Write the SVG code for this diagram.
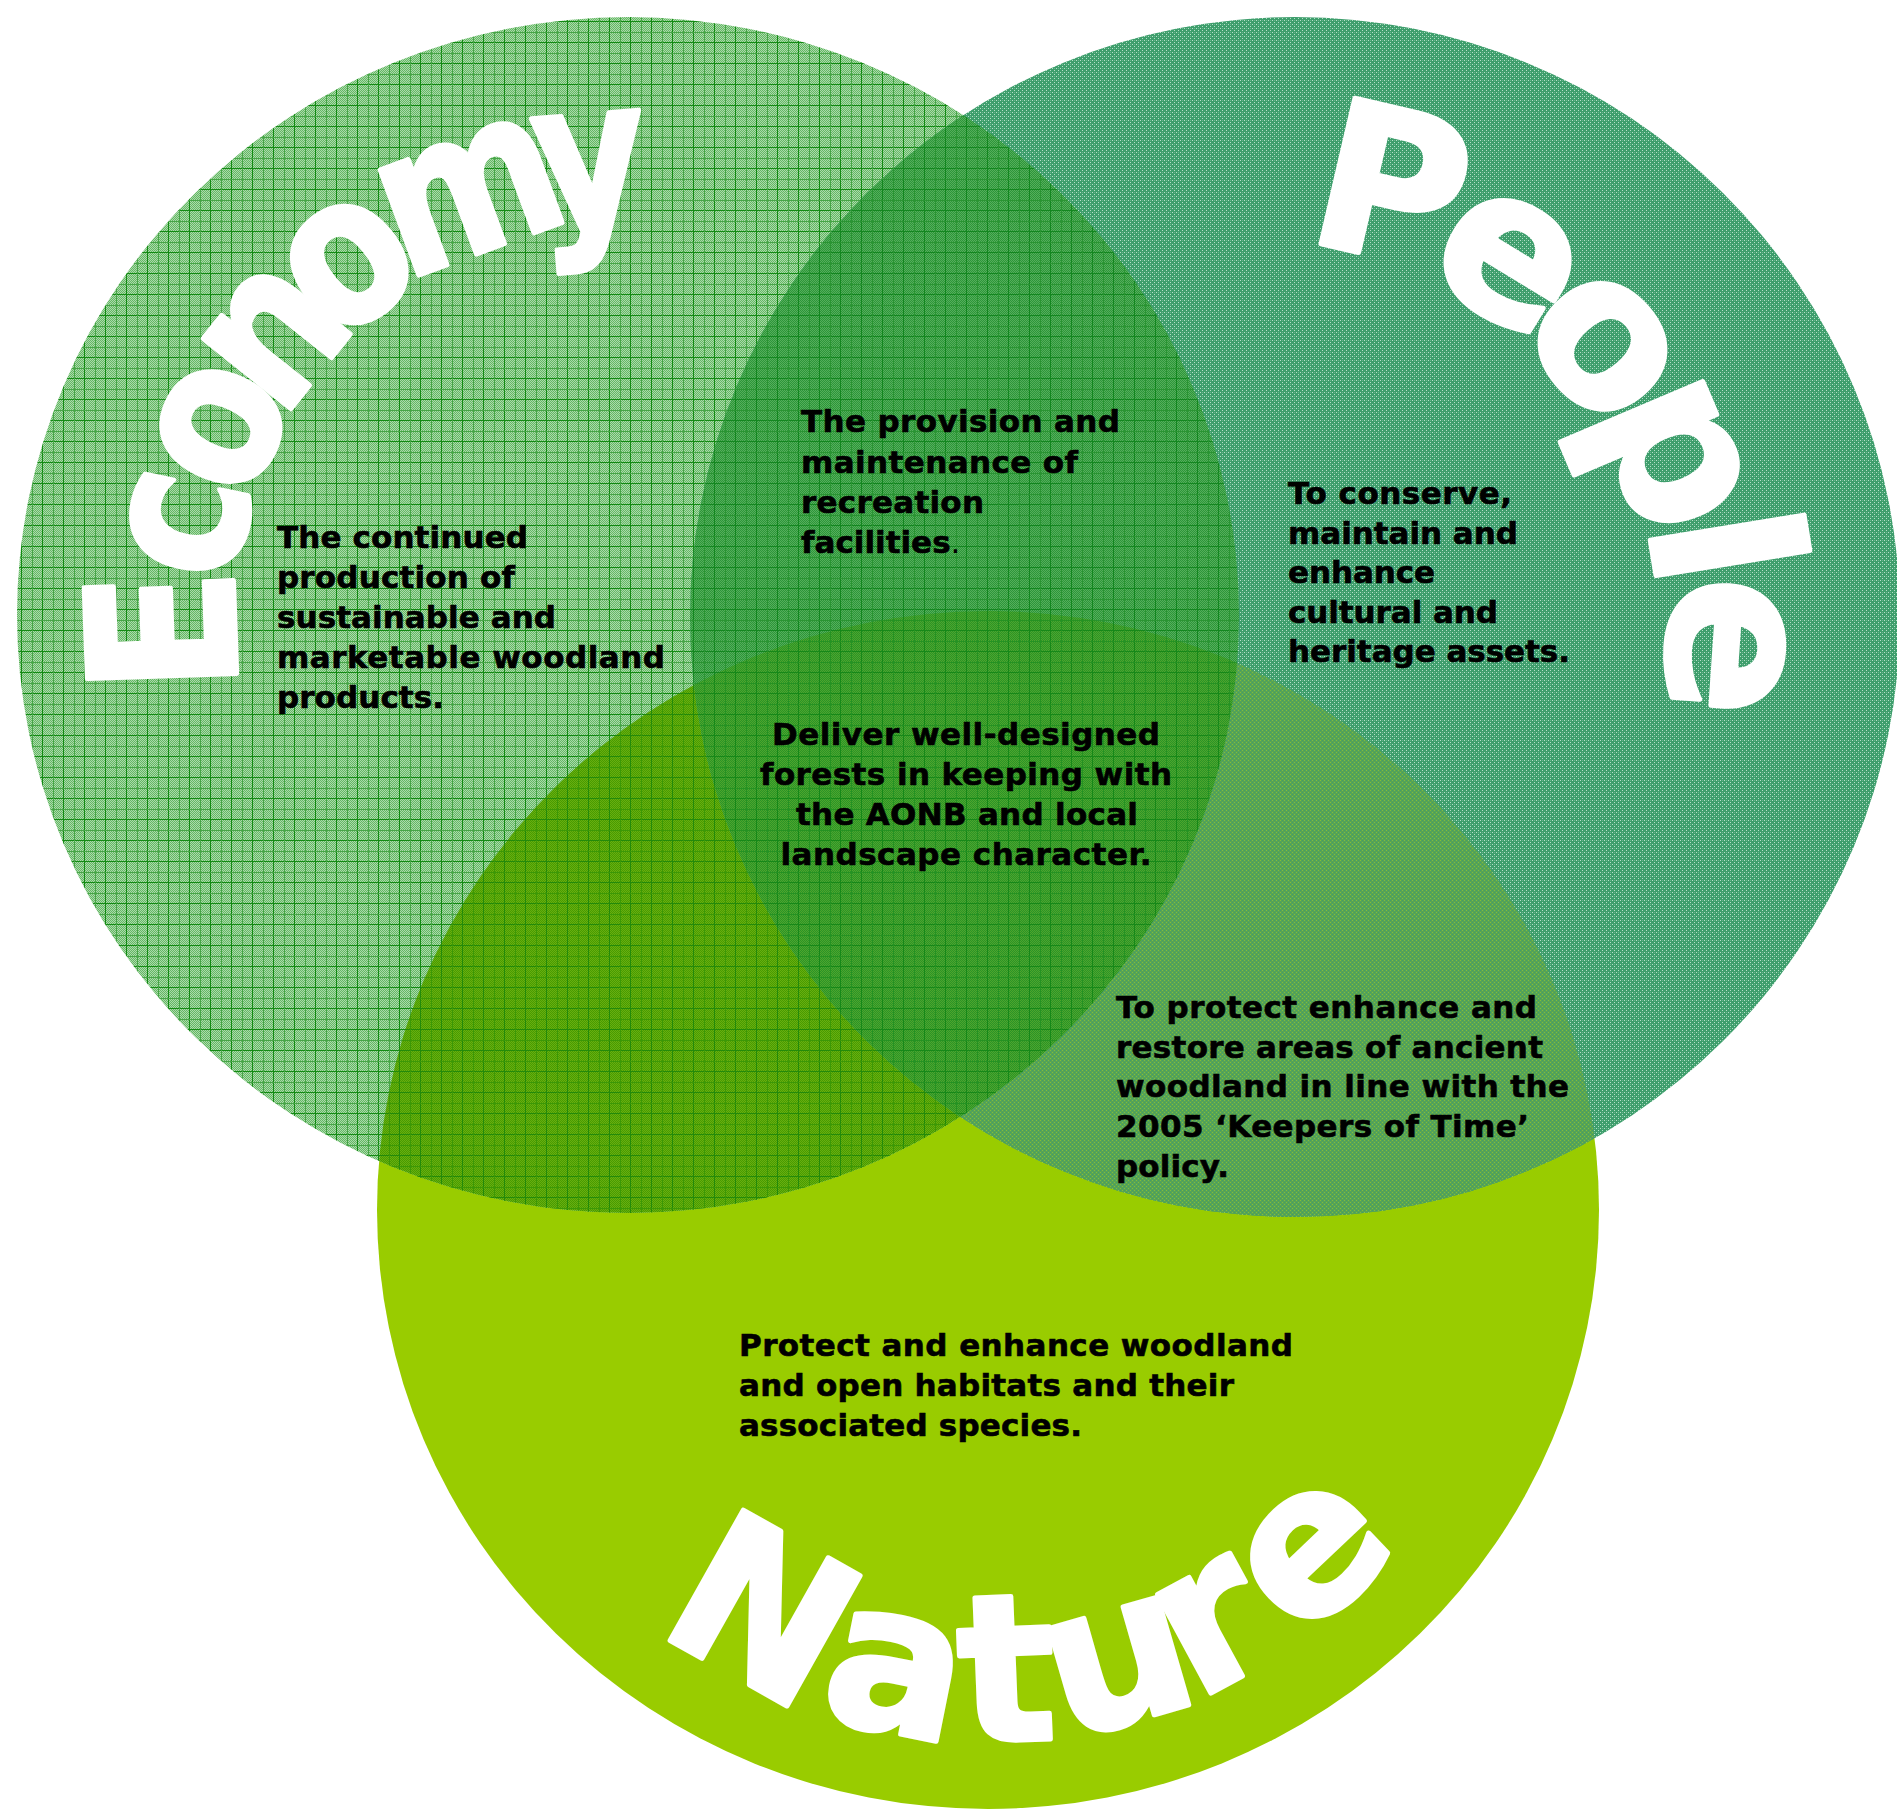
<svg xmlns="http://www.w3.org/2000/svg" width="1897" height="1812" viewBox="0 0 1897 1812">
<style>
.body{font-family:"DejaVu Sans","Verdana","Liberation Sans",sans-serif;font-weight:bold;font-size:31px;fill:#000;stroke:#000;stroke-width:0.6}
.big{font-family:"DejaVu Sans","Verdana","Liberation Sans",sans-serif;font-weight:bold;font-size:205px;fill:#fff;stroke:#fff;stroke-width:5;stroke-linejoin:round;text-anchor:middle}
</style>
<defs>
<pattern id="chkE" width="2" height="2" patternUnits="userSpaceOnUse"><rect width="2" height="2" fill="#aadaaa"/><rect width="1" height="1" fill="#64b764"/><rect x="1" y="1" width="1" height="1" fill="#64b764"/></pattern>
<pattern id="pE" width="21" height="21" patternUnits="userSpaceOnUse"><rect width="21" height="21" fill="url(#chkE)"/><path d="M0 0.5H21M0.5 0V21" stroke="#138a13" stroke-width="1"/><path d="M0 11.5H21M11.5 0V21" stroke="#47a547" stroke-width="1"/></pattern>
<pattern id="chkEP" width="2" height="2" patternUnits="userSpaceOnUse"><rect width="2" height="2" fill="#55ae5a"/><rect width="1" height="1" fill="#2c963a"/><rect x="1" y="1" width="1" height="1" fill="#2c963a"/></pattern>
<pattern id="pEP" width="21" height="21" patternUnits="userSpaceOnUse"><rect width="21" height="21" fill="url(#chkEP)"/><path d="M0 0.5H21M0.5 0V21" stroke="#13861f" stroke-width="1"/><path d="M0 11.5H21M11.5 0V21" stroke="#2a9432" stroke-width="1"/></pattern>
<pattern id="chkEN" width="2" height="2" patternUnits="userSpaceOnUse"><rect width="2" height="2" fill="#68ae10"/><rect width="1" height="1" fill="#489c00"/><rect x="1" y="1" width="1" height="1" fill="#489c00"/></pattern>
<pattern id="pEN" width="21" height="21" patternUnits="userSpaceOnUse"><rect width="21" height="21" fill="url(#chkEN)"/><path d="M0 0.5H21M0.5 0V21" stroke="#238a0a" stroke-width="1"/><path d="M0 11.5H21M11.5 0V21" stroke="#3c9806" stroke-width="1"/></pattern>
<pattern id="chkC" width="2" height="2" patternUnits="userSpaceOnUse"><rect width="2" height="2" fill="#4ea52c"/><rect width="1" height="1" fill="#2a9428"/><rect x="1" y="1" width="1" height="1" fill="#2a9428"/></pattern>
<pattern id="pC" width="21" height="21" patternUnits="userSpaceOnUse"><rect width="21" height="21" fill="url(#chkC)"/><path d="M0 0.5H21M0.5 0V21" stroke="#168818" stroke-width="1"/><path d="M0 11.5H21M11.5 0V21" stroke="#259222" stroke-width="1"/></pattern>
<pattern id="pP" width="4" height="4" patternUnits="userSpaceOnUse"><rect width="4" height="4" fill="#3e9e6c"/><rect width="1" height="1" fill="#b4e0c8"/><rect x="2" y="2" width="1" height="1" fill="#b4e0c8"/><rect x="2" y="0" width="1" height="1" fill="#6ab48c"/></pattern>
<pattern id="pPN" width="4" height="4" patternUnits="userSpaceOnUse"><rect width="4" height="4" fill="#57a454"/><rect width="1" height="1" fill="#82bc3c"/><rect x="2" y="2" width="1" height="1" fill="#82bc3c"/><rect x="2" y="0" width="1" height="1" fill="#429c6c"/><rect x="0" y="2" width="1" height="1" fill="#429c6c"/></pattern>
<clipPath id="cE"><ellipse cx="628" cy="615" rx="611" ry="598"/></clipPath>
<clipPath id="cP"><ellipse cx="1295" cy="617" rx="605" ry="600"/></clipPath>
</defs>
<rect width="1897" height="1812" fill="#fff"/>
<g id="circle-nature"><ellipse cx="988" cy="1210" rx="611" ry="599" fill="#99cc00"/></g>
<g id="circle-economy"><ellipse cx="628" cy="615" rx="611" ry="598" fill="url(#pE)"/></g>
<g id="circle-people"><ellipse cx="1295" cy="617" rx="605" ry="600" fill="url(#pP)"/></g>
<g id="overlaps">
<g clip-path="url(#cE)"><ellipse cx="988" cy="1210" rx="611" ry="599" fill="url(#pEN)"/></g>
<g clip-path="url(#cP)"><ellipse cx="988" cy="1210" rx="611" ry="599" fill="url(#pPN)"/></g>
<g clip-path="url(#cE)"><ellipse cx="1295" cy="617" rx="605" ry="600" fill="url(#pEP)"/></g>
<g clip-path="url(#cE)"><g clip-path="url(#cP)"><ellipse cx="988" cy="1210" rx="611" ry="599" fill="url(#pC)"/></g></g>
</g>
<g id="connectors"></g>
<g id="title-economy" class="big">
<text transform="translate(235.2 628.6) rotate(268) scale(0.88 1)">E</text>
<text transform="translate(243.2 535.2) rotate(281.8) scale(0.85 1)">c</text>
<text transform="translate(271.5 450.2) rotate(295) scale(0.85 1)">o</text>
<text transform="translate(320.2 371.7) rotate(308.6) scale(0.85 1)">n</text>
<text transform="translate(383.8 308.5) rotate(321.8) scale(0.85 1)">o</text>
<text transform="translate(490.3 249) rotate(339.8) scale(0.85 1)">m</text>
<text transform="translate(594.4 226.2) rotate(355.5) scale(0.85 1)">y</text>
</g>
<g id="title-people" class="big">
<text transform="translate(1375.9 256.6) rotate(13.1)">P</text>
<text transform="translate(1479 309.4) rotate(31.3)">e</text>
<text transform="translate(1560.4 383.1) rotate(48.9)">o</text>
<text transform="translate(1621.5 477.1) rotate(67)">p</text>
<text transform="translate(1653.2 557.9) rotate(80.7)">l</text>
<text transform="translate(1669.1 642.7) rotate(93.9)">e</text>
</g>
<g id="title-nature" class="big">
<text transform="translate(728.6 1673.2) rotate(29.3)">N</text>
<text transform="translate(884.1 1730.7) rotate(11.3)">a</text>
<text transform="translate(1009.3 1740.6) rotate(-2.3)">t</text>
<text transform="translate(1135 1720.2) rotate(-16.1)">u</text>
<text transform="translate(1240.1 1677.2) rotate(-28.4)">r</text>
<text transform="translate(1352.8 1595.4) rotate(-43.5)">e</text>
</g>
<g id="node-economy-text" class="body">
<text x="277" y="548" textLength="251">The continued</text>
<text x="277" y="588" textLength="238">production of</text>
<text x="277" y="628" textLength="279">sustainable and</text>
<text x="277" y="668" textLength="388">marketable woodland</text>
<text x="277" y="708" textLength="167">products.</text>
</g>
<g id="node-recreation-text" class="body">
<text x="801" y="432" textLength="319">The provision and</text>
<text x="801" y="473" textLength="277">maintenance of</text>
<text x="801" y="513" textLength="183">recreation</text>
<text x="801" y="553">facilities<tspan font-weight="normal" stroke-width="0">.</tspan></text>
</g>
<g id="node-people-text" class="body">
<text x="1288" y="504" textLength="224">To conserve,</text>
<text x="1288" y="544" textLength="230">maintain and</text>
<text x="1288" y="583" textLength="147">enhance</text>
<text x="1288" y="623" textLength="210">cultural and</text>
<text x="1288" y="662" textLength="282">heritage assets.</text>
</g>
<g id="node-center-text" class="body" text-anchor="middle">
<text x="966" y="745" textLength="388">Deliver well-designed</text>
<text x="966" y="785" textLength="412">forests in keeping with</text>
<text x="967" y="825" textLength="342">the AONB and local</text>
<text x="966" y="865" textLength="371">landscape character.</text>
</g>
<g id="node-ancient-text" class="body">
<text x="1116" y="1018" textLength="421">To protect enhance and</text>
<text x="1116" y="1058" textLength="427">restore areas of ancient</text>
<text x="1116" y="1097" textLength="453">woodland in line with the</text>
<text x="1116" y="1137" textLength="413">2005 ‘Keepers of Time’</text>
<text x="1116" y="1177" textLength="113">policy.</text>
</g>
<g id="node-nature-text" class="body">
<text x="739" y="1356" textLength="554">Protect and enhance woodland</text>
<text x="739" y="1396" textLength="495">and open habitats and their</text>
<text x="739" y="1436" textLength="343">associated species.</text>
</g>
</svg>
